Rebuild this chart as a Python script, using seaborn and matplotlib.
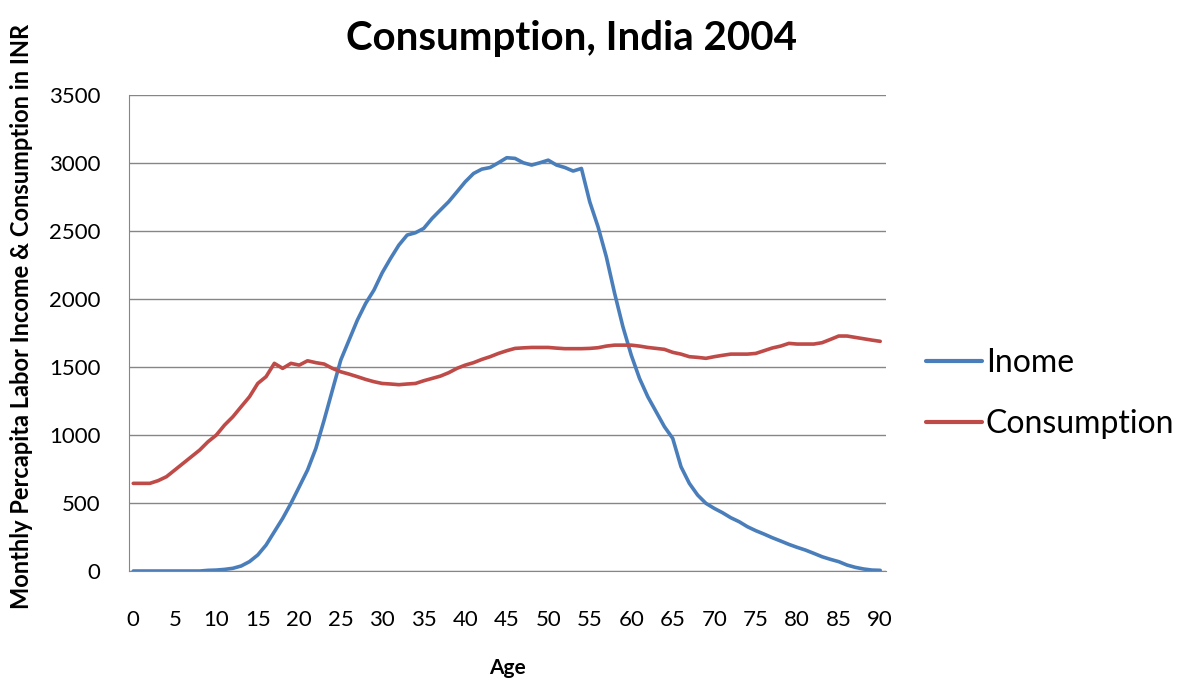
import pandas as pd
import seaborn as sns
import matplotlib.pyplot as plt

# Age groups 0..90
ages = list(range(0, 91))

# Monthly per capita labor income (INR)
income = [0, 0, 0, 0, 0, 0, 0, 0, 0, 5,
          7, 12, 20, 37, 69, 118, 191, 289, 387, 498,
          620, 743, 902, 1111, 1332, 1552, 1699, 1846, 1969, 2067,
          2195, 2300, 2398, 2472, 2489, 2521, 2594, 2656, 2717, 2790,
          2864, 2925, 2957, 2969, 3004, 3041, 3036, 3004, 2987, 3004,
          3023, 2987, 2969, 2943, 2962, 2717, 2533, 2312, 2043, 1797,
          1589, 1417, 1282, 1172, 1062, 976, 767, 645, 559, 498,
          461, 429, 392, 363, 326, 297, 272, 245, 221, 196,
          174, 154, 130, 105, 86, 69, 44, 27, 15, 7,
          5]

# Monthly per capita consumption (INR)
consumption = [645, 645, 645, 665, 694, 743, 792, 841, 890, 951,
               1000, 1074, 1135, 1209, 1282, 1380, 1430, 1528, 1491, 1528,
               1515, 1547, 1533, 1523, 1491, 1466, 1449, 1430, 1410, 1393,
               1380, 1376, 1371, 1376, 1380, 1400, 1417, 1434, 1459, 1491,
               1515, 1533, 1557, 1577, 1601, 1621, 1638, 1642, 1645, 1645,
               1645, 1640, 1636, 1636, 1636, 1638, 1643, 1655, 1662, 1662,
               1662, 1655, 1645, 1638, 1631, 1609, 1596, 1577, 1572, 1565,
               1577, 1587, 1596, 1596, 1596, 1601, 1621, 1641, 1655, 1675,
               1670, 1670, 1670, 1680, 1704, 1729, 1729, 1719, 1709, 1699,
               1690]

series_names = ['Inome', 'Consumption']
y_ticks = list(range(0, 3501, 500))
x_ticks = list(range(0, 91, 5))

df = pd.DataFrame({
    'Age': ages * 2,
    'Value': income + consumption,
    'Series': [series_names[0]] * len(ages) + [series_names[1]] * len(ages),
})

sns.set_style('white')
plt.rcParams['font.family'] = ['Lato', 'DejaVu Sans']
plt.rcParams['text.color'] = 'black'
plt.rcParams['axes.labelcolor'] = 'black'
plt.rcParams['xtick.color'] = 'black'
plt.rcParams['ytick.color'] = 'black'

fig = plt.figure(figsize=(11.92, 6.81), dpi=100)
ax = fig.add_axes([0.1086, 0.1615, 0.6347, 0.6985])

sns.lineplot(data=df, x='Age', y='Value', hue='Series',
             palette=['#4A7EBB', '#BE4B48'], linewidth=2.6, ax=ax)

ax.set_xlim(-0.46, 90.7)
ax.set_ylim(0, 3500)
ax.set_yticks(y_ticks)
ax.set_xticks(x_ticks)
ax.tick_params(axis='y', length=6, color='#868686', labelsize=16, pad=15)
ax.tick_params(axis='x', length=0, labelsize=16, pad=28)
ax.grid(axis='y', color='#868686', linewidth=1)
ax.set_axisbelow(True)
for side in ['top', 'right']:
    ax.spines[side].set_visible(False)
ax.spines['left'].set_color('#868686')
ax.spines['bottom'].set_color('#868686')

ax.set_title('Consumption, India 2004', fontsize=29, fontweight='bold',
             x=0.584, pad=33)
ax.set_xlabel('Age', fontsize=15, fontweight='bold', labelpad=20)
ax.set_ylabel('Monthly Percapita Labor Income & Consumption in INR',
              fontsize=17, fontweight='bold')
ax.yaxis.set_label_coords(-0.127, 0.536)

leg = ax.legend(loc='center left', bbox_to_anchor=(1.015, 0.373), frameon=False,
                fontsize=23, handlelength=1.75, handletextpad=0.12, labelspacing=0.95)
for line in leg.get_lines():
    line.set_linewidth(3)

plt.savefig('out.png', dpi=100)
